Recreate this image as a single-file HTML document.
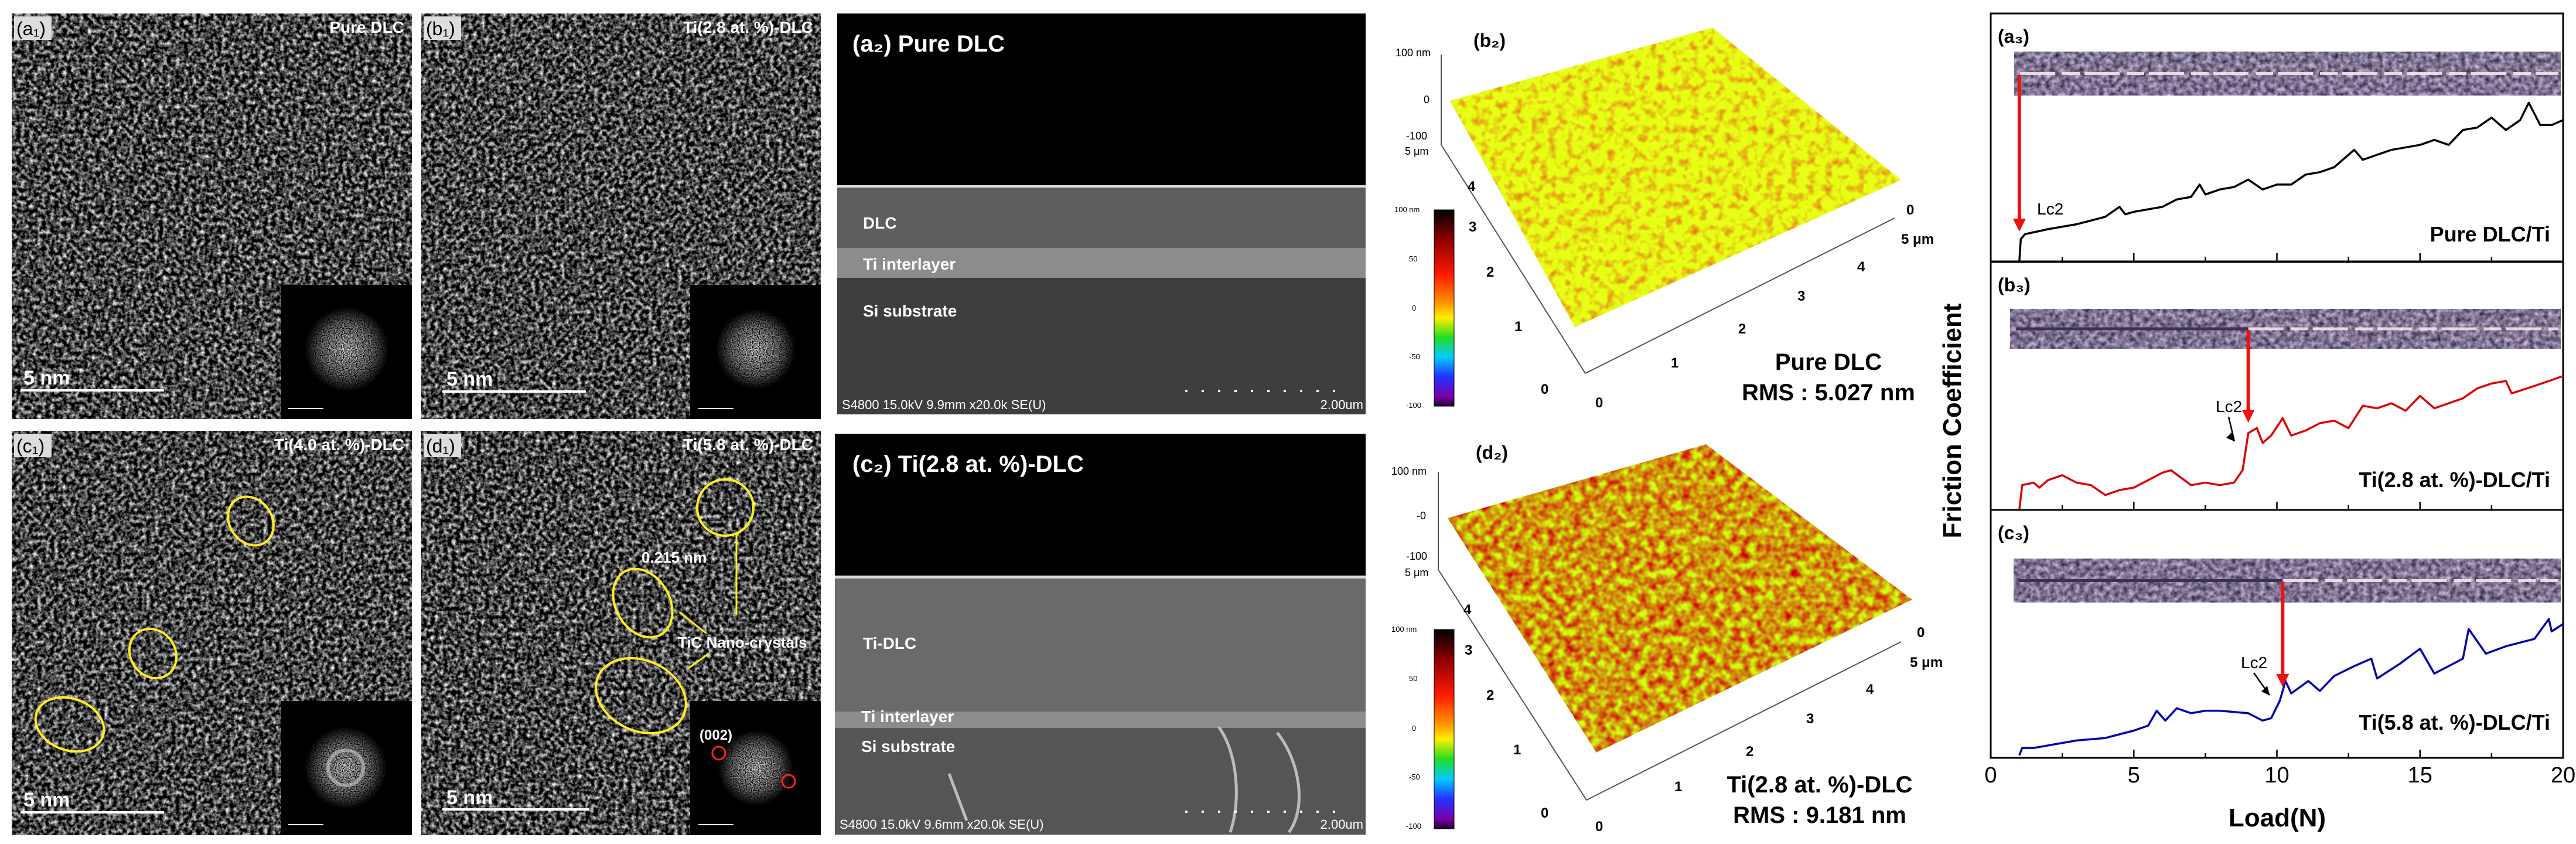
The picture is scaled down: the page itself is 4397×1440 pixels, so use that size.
<!DOCTYPE html>
<html><head><meta charset="utf-8">
<style>
html,body{margin:0;padding:0;background:#fff;}
svg{display:block;font-family:"Liberation Sans",sans-serif;}
filter{color-interpolation-filters:sRGB;}
</style></head>
<body>
<svg id="fig" width="4397" height="1440" viewBox="0 0 4397 1440" xmlns="http://www.w3.org/2000/svg">
<defs>
<filter id="tem" x="0" y="0" width="100%" height="100%" color-interpolation-filters="sRGB">
  <feTurbulence type="fractalNoise" baseFrequency="0.14" numOctaves="3" seed="3" result="n"/>
  <feColorMatrix in="n" type="matrix" values="1.9 0 0 0 -0.68  1.9 0 0 0 -0.68  1.9 0 0 0 -0.68  0 0 0 0 1" result="g"/>
  <feComposite in="g" in2="SourceGraphic" operator="in"/>
</filter>
<filter id="tem2" x="0" y="0" width="100%" height="100%" color-interpolation-filters="sRGB">
  <feTurbulence type="fractalNoise" baseFrequency="0.14" numOctaves="3" seed="9" result="n"/>
  <feColorMatrix in="n" type="matrix" values="1.9 0 0 0 -0.68  1.9 0 0 0 -0.68  1.9 0 0 0 -0.68  0 0 0 0 1" result="g"/>
  <feComposite in="g" in2="SourceGraphic" operator="in"/>
</filter>
<filter id="strip" x="0" y="0" width="100%" height="100%" color-interpolation-filters="sRGB">
  <feTurbulence type="fractalNoise" baseFrequency="0.12" numOctaves="2" seed="5" result="n"/>
  <feColorMatrix in="n" type="matrix" values="0.9 0 0 0 0.05  0.8 0 0 0 0.05  0.9 0 0 0 0.12  0 0 0 0 1" result="g"/>
  <feComposite in="g" in2="SourceGraphic" operator="in"/>
</filter>
<filter id="afm1" x="0" y="0" width="100%" height="100%" color-interpolation-filters="sRGB">
  <feTurbulence type="fractalNoise" baseFrequency="0.07" numOctaves="2" seed="2" result="n"/>
  <feColorMatrix in="n" type="matrix" values="0 0 0 0 0.9  -1.2 0 0 0 1.55  0 0 0 0 0.08  0 0 0 0 1" result="g"/>
  <feComposite in="g" in2="SourceGraphic" operator="in"/>
</filter>
<filter id="afm2" x="0" y="0" width="100%" height="100%" color-interpolation-filters="sRGB">
  <feTurbulence type="fractalNoise" baseFrequency="0.07" numOctaves="2" seed="7" result="n"/>
  <feColorMatrix in="n" type="matrix" values="0 0 0 0 0.82  -1.8 0 0 0 1.5  0 0 0 0 0.05  0 0 0 0 1" result="g"/>
  <feComposite in="g" in2="SourceGraphic" operator="in"/>
</filter>
<filter id="fft" x="0" y="0" width="100%" height="100%" color-interpolation-filters="sRGB">
  <feTurbulence type="fractalNoise" baseFrequency="0.5" numOctaves="1" seed="4" result="n"/>
  <feColorMatrix in="n" type="matrix" values="3 0 0 0 -0.9  3 0 0 0 -0.9  3 0 0 0 -0.9  0 0 0 0 1" result="g"/>
  <feComposite in="g" in2="SourceGraphic" operator="in"/>
</filter>
<radialGradient id="fftg">
  <stop offset="0" stop-color="#fff" stop-opacity="0.9"/>
  <stop offset="0.6" stop-color="#fff" stop-opacity="0.5"/>
  <stop offset="1" stop-color="#fff" stop-opacity="0"/>
</radialGradient>
<linearGradient id="cbar" x1="0" y1="0" x2="0" y2="1">
  <stop offset="0" stop-color="#000"/><stop offset="0.15" stop-color="#8b0000"/>
  <stop offset="0.33" stop-color="#ff1a00"/><stop offset="0.48" stop-color="#ff9900"/>
  <stop offset="0.55" stop-color="#ffee00"/><stop offset="0.65" stop-color="#22dd22"/>
  <stop offset="0.75" stop-color="#00ccff"/><stop offset="0.85" stop-color="#2233ff"/>
  <stop offset="0.95" stop-color="#7a00aa"/><stop offset="1" stop-color="#200030"/>
</linearGradient>
</defs>

<!-- TEM panels -->
<g>
  <g>
    <rect x="20" y="23" width="683" height="692" fill="#888" filter="url(#tem)"/>
    <rect x="480" y="486" width="223" height="229" fill="#000"/>
    <circle cx="592" cy="596" r="72" fill="url(#fftg)" filter="url(#fft)"/>
    <line x1="492" y1="697" x2="552" y2="697" stroke="#fff" stroke-width="2"/>
    <rect x="24" y="28" width="64" height="40" fill="#ddd"/>
    <text x="28" y="60" font-size="32" fill="#000">(a₁)</text>
    <text x="690" y="56" font-size="28" font-weight="bold" fill="#fff" text-anchor="end">Pure DLC</text>
    <line x1="35" y1="666" x2="280" y2="666" stroke="#fff" stroke-width="4"/>
    <text x="40" y="656" font-size="34" font-weight="bold" fill="#fff">5 nm</text>
  </g>
  <g>
    <rect x="719" y="23" width="682" height="692" fill="#888" filter="url(#tem2)"/>
    <rect x="1178" y="486" width="223" height="229" fill="#000"/>
    <circle cx="1290" cy="596" r="68" fill="url(#fftg)" filter="url(#fft)"/>
    <line x1="1192" y1="697" x2="1252" y2="697" stroke="#fff" stroke-width="2"/>
    <rect x="723" y="28" width="64" height="40" fill="#ddd"/>
    <text x="727" y="60" font-size="32" fill="#000">(b₁)</text>
    <text x="1388" y="56" font-size="28" font-weight="bold" fill="#fff" text-anchor="end">Ti(2.8 at. %)-DLC</text>
    <line x1="755" y1="668" x2="1000" y2="668" stroke="#fff" stroke-width="4"/>
    <text x="762" y="658" font-size="34" font-weight="bold" fill="#fff">5 nm</text>
  </g>
  <g>
    <rect x="20" y="735" width="683" height="690" fill="#888" filter="url(#tem2)"/>
    <rect x="480" y="1196" width="223" height="229" fill="#000"/>
    <circle cx="590" cy="1310" r="70" fill="url(#fftg)" filter="url(#fft)"/>
    <circle cx="590" cy="1310" r="30" fill="none" stroke="#ccc" stroke-width="6" opacity="0.6"/>
    <line x1="492" y1="1407" x2="552" y2="1407" stroke="#fff" stroke-width="2"/>
    <rect x="24" y="740" width="64" height="40" fill="#ddd"/>
    <text x="28" y="772" font-size="32" fill="#000">(c₁)</text>
    <text x="690" y="768" font-size="28" font-weight="bold" fill="#fff" text-anchor="end">Ti(4.0 at. %)-DLC</text>
    <line x1="35" y1="1386" x2="280" y2="1386" stroke="#fff" stroke-width="4"/>
    <text x="40" y="1376" font-size="34" font-weight="bold" fill="#fff">5 nm</text>
    <ellipse cx="428" cy="889" rx="36" ry="44" transform="rotate(-35 428 889)" fill="none" stroke="#ffee22" stroke-width="4"/>
    <ellipse cx="261" cy="1115" rx="38" ry="44" transform="rotate(-35 261 1115)" fill="none" stroke="#ffee22" stroke-width="4"/>
    <ellipse cx="119" cy="1236" rx="60" ry="44" transform="rotate(20 119 1236)" fill="none" stroke="#ffee22" stroke-width="4"/>
  </g>
  <g>
    <rect x="719" y="735" width="682" height="690" fill="#888" filter="url(#tem)"/>
    <rect x="1178" y="1196" width="223" height="229" fill="#000"/>
    <circle cx="1290" cy="1310" r="64" fill="url(#fftg)" filter="url(#fft)"/>
    <circle cx="1227" cy="1285" r="11" fill="none" stroke="#ff2020" stroke-width="3"/>
    <circle cx="1346" cy="1333" r="11" fill="none" stroke="#ff2020" stroke-width="3"/>
    <text x="1194" y="1262" font-size="24" font-weight="bold" fill="#fff">(002)</text>
    <line x1="1192" y1="1407" x2="1252" y2="1407" stroke="#fff" stroke-width="2"/>
    <rect x="723" y="740" width="64" height="40" fill="#ddd"/>
    <text x="727" y="772" font-size="32" fill="#000">(d₁)</text>
    <text x="1388" y="768" font-size="28" font-weight="bold" fill="#fff" text-anchor="end">Ti(5.8 at. %)-DLC</text>
    <line x1="755" y1="1381" x2="1005" y2="1381" stroke="#fff" stroke-width="4"/>
    <text x="762" y="1372" font-size="34" font-weight="bold" fill="#fff">5 nm</text>
    <ellipse cx="1238" cy="866" rx="48" ry="48" fill="none" stroke="#ffee22" stroke-width="4"/>
    <ellipse cx="1097" cy="1029" rx="46" ry="62" transform="rotate(-30 1097 1029)" fill="none" stroke="#ffee22" stroke-width="4"/>
    <ellipse cx="1094" cy="1187" rx="80" ry="60" transform="rotate(25 1094 1187)" fill="none" stroke="#ffee22" stroke-width="4"/>
    <text x="1095" y="960" font-size="26" font-weight="bold" fill="#fff">0.215 nm</text>
    <text x="1157" y="1105" font-size="26" font-weight="bold" fill="#fff">TiC Nano-crystals</text>
    <line x1="1257" y1="1050" x2="1257" y2="910" stroke="#ffee22" stroke-width="3"/>
    <line x1="1205" y1="1080" x2="1160" y2="1045" stroke="#ffee22" stroke-width="3"/>
    <line x1="1210" y1="1115" x2="1175" y2="1140" stroke="#ffee22" stroke-width="3"/>
  </g>
</g>

<!-- SEM panels -->
<g>
  <rect x="1429" y="23" width="902" height="684" fill="#000"/>
  <rect x="1429" y="318" width="902" height="105" fill="#5e5e5e"/>
  <rect x="1429" y="316" width="902" height="4" fill="#ddd"/>
  <rect x="1429" y="423" width="902" height="51" fill="#8c8c8c"/>
  <rect x="1429" y="474" width="902" height="233" fill="#3e3e3e"/>
  <text x="1455" y="88" font-size="40" font-weight="bold" fill="#fff">(a₂) Pure DLC</text>
  <text x="1473" y="390" font-size="28" font-weight="bold" fill="#fff">DLC</text>
  <text x="1473" y="460" font-size="28" font-weight="bold" fill="#fff">Ti interlayer</text>
  <text x="1473" y="540" font-size="28" font-weight="bold" fill="#fff">Si substrate</text>
  <text x="1437" y="698" font-size="22" fill="#fff">S4800 15.0kV 9.9mm x20.0k SE(U)</text>
  <text x="2327" y="698" font-size="22" fill="#fff" text-anchor="end">2.00um</text>
  <line x1="2023" y1="667" x2="2300" y2="667" stroke="#fff" stroke-width="4" stroke-dasharray="4 24"/>
</g>
<g>
  <rect x="1425" y="740" width="906" height="684" fill="#000"/>
  <rect x="1425" y="986" width="906" height="228" fill="#6a6a6a"/>
  <rect x="1425" y="982" width="906" height="5" fill="#ddd"/>
  <rect x="1425" y="1214" width="906" height="28" fill="#8c8c8c"/>
  <rect x="1425" y="1242" width="906" height="182" fill="#555"/>
  <path d="M2080 1240 C2110 1280 2120 1360 2100 1420 M2180 1250 C2220 1300 2230 1380 2200 1420 M1620 1320 L1650 1400" stroke="#bbb" stroke-width="5" fill="none"/>
  <text x="1455" y="805" font-size="40" font-weight="bold" fill="#fff">(c₂) Ti(2.8 at. %)-DLC</text>
  <text x="1473" y="1107" font-size="28" font-weight="bold" fill="#fff">Ti-DLC</text>
  <text x="1470" y="1232" font-size="28" font-weight="bold" fill="#fff">Ti interlayer</text>
  <text x="1470" y="1283" font-size="28" font-weight="bold" fill="#fff">Si substrate</text>
  <text x="1433" y="1414" font-size="22" fill="#fff">S4800 15.0kV 9.6mm x20.0k SE(U)</text>
  <text x="2327" y="1414" font-size="22" fill="#fff" text-anchor="end">2.00um</text>
  <line x1="2023" y1="1385" x2="2300" y2="1385" stroke="#fff" stroke-width="4" stroke-dasharray="4 24"/>
</g>

<!-- AFM panels -->
<g>
  <polyline points="2460,93 2460,247 2706,637 3234,372" fill="none" stroke="#555" stroke-width="2"/>
  <polygon points="2475,172 2923,47 3245,307 2688,558" fill="#e0a020" filter="url(#afm1)"/>
  <text x="2515" y="80" font-size="32" font-weight="bold" fill="#000">(b₂)</text>
  <text x="2382" y="96" font-size="18" fill="#000">100 nm</text>
  <text x="2430" y="176" font-size="18" fill="#000">0</text>
  <text x="2400" y="238" font-size="18" fill="#000">-100</text>
  <text x="2398" y="264" font-size="18" fill="#000">5 μm</text>
  <rect x="2448" y="358" width="34" height="335" fill="url(#cbar)" stroke="#000" stroke-width="1"/>
  <text x="2380" y="362" font-size="13" fill="#000">100 nm</text>
  <text x="2405" y="446" font-size="13" fill="#000">50</text>
  <text x="2410" y="530" font-size="13" fill="#000">0</text>
  <text x="2405" y="613" font-size="13" fill="#000">-50</text>
  <text x="2400" y="696" font-size="13" fill="#000">-100</text>
  <g font-size="24" font-weight="bold" fill="#000">
    <text x="2505" y="326">4</text><text x="2507" y="395">3</text><text x="2537" y="472">2</text><text x="2585" y="565">1</text><text x="2630" y="672">0</text>
    <text x="2723" y="695">0</text><text x="2852" y="627">1</text><text x="2967" y="569">2</text><text x="3068" y="513">3</text><text x="3170" y="463">4</text><text x="3254" y="366">0</text><text x="3245" y="416">5 μm</text>
  </g>
  <text x="3121" y="631" font-size="40" font-weight="bold" fill="#000" text-anchor="middle">Pure DLC</text>
  <text x="3121" y="683" font-size="40" font-weight="bold" fill="#000" text-anchor="middle">RMS : 5.027 nm</text>
</g>
<g>
  <polyline points="2455,805 2455,972 2708,1365 3245,1095" fill="none" stroke="#555" stroke-width="2"/>
  <polygon points="2471,884 2912,758 3264,1023 2725,1284" fill="#c06018" filter="url(#afm2)"/>
  <text x="2519" y="783" font-size="32" font-weight="bold" fill="#000">(d₂)</text>
  <text x="2375" y="810" font-size="18" fill="#000">100 nm</text>
  <text x="2418" y="886" font-size="18" fill="#000">-0</text>
  <text x="2400" y="955" font-size="18" fill="#000">-100</text>
  <text x="2398" y="983" font-size="18" fill="#000">5 μm</text>
  <rect x="2448" y="1074" width="34" height="340" fill="url(#cbar)" stroke="#000" stroke-width="1"/>
  <text x="2375" y="1078" font-size="13" fill="#000">100 nm</text>
  <text x="2405" y="1162" font-size="13" fill="#000">50</text>
  <text x="2410" y="1247" font-size="13" fill="#000">0</text>
  <text x="2405" y="1330" font-size="13" fill="#000">-50</text>
  <text x="2400" y="1414" font-size="13" fill="#000">-100</text>
  <g font-size="24" font-weight="bold" fill="#000">
    <text x="2498" y="1048">4</text><text x="2500" y="1117">3</text><text x="2537" y="1194">2</text><text x="2583" y="1287">1</text><text x="2630" y="1395">0</text>
    <text x="2723" y="1418">0</text><text x="2858" y="1350">1</text><text x="2980" y="1290">2</text><text x="3083" y="1234">3</text><text x="3185" y="1184">4</text><text x="3272" y="1087">0</text><text x="3260" y="1138">5 μm</text>
  </g>
  <text x="3106" y="1352" font-size="40" font-weight="bold" fill="#000" text-anchor="middle">Ti(2.8 at. %)-DLC</text>
  <text x="3106" y="1404" font-size="40" font-weight="bold" fill="#000" text-anchor="middle">RMS : 9.181 nm</text>
</g>

<!-- scratch chart -->
<g id="chart"></g>
</svg>

<script>
const xTicks = [0, 5, 10, 15, 20];
const xTickLabels = ["0", "5", "10", "15", "20"];
const loadA = [1,1.05,1.2,2,3,4,4.5,4.7,5,6,6.5,7,7.3,7.5,8,8.5,9,9.5,10,10.5,11,11.5,12,12.7,13,13.5,14,15,15.5,16,16.5,17,17.5,18,18.5,18.8,19.2,19.6,20];
const fricA = [0,0.09,0.11,0.13,0.15,0.18,0.22,0.19,0.2,0.22,0.25,0.26,0.31,0.27,0.29,0.3,0.33,0.29,0.31,0.31,0.35,0.36,0.38,0.45,0.41,0.43,0.45,0.47,0.49,0.47,0.53,0.54,0.58,0.53,0.57,0.64,0.55,0.55,0.57];
const loadB = [1,1.1,1.5,1.7,2,2.5,3,3.5,4,4.5,5,5.5,6,6.3,7,7.5,8,8.5,8.8,9,9.3,9.5,9.8,10.2,10.5,11,11.5,12,12.5,13,13.5,14,14.5,15,15.5,16,16.5,17,17.5,18,18.2,19,20];
const fricB = [0,0.1,0.11,0.09,0.12,0.14,0.11,0.1,0.06,0.08,0.09,0.12,0.15,0.16,0.1,0.11,0.1,0.11,0.16,0.31,0.33,0.27,0.3,0.37,0.3,0.32,0.35,0.36,0.33,0.42,0.41,0.43,0.4,0.46,0.41,0.43,0.45,0.49,0.51,0.52,0.47,0.5,0.54];
const loadC = [1,1.1,1.5,2.5,3,4,5,5.5,5.8,6.1,6.5,7,7.5,8,9,9.5,9.8,10.1,10.3,10.5,11.1,11.5,12,12.7,13.3,13.5,14.3,15,15.5,16.5,16.7,17.3,18,19,19.5,19.6,20];
const fricC = [0.01,0.04,0.04,0.06,0.07,0.08,0.11,0.13,0.19,0.15,0.2,0.18,0.19,0.19,0.18,0.15,0.16,0.23,0.31,0.26,0.31,0.27,0.33,0.37,0.4,0.32,0.38,0.44,0.34,0.4,0.52,0.42,0.45,0.48,0.56,0.51,0.54];
const lc2Loads = [1, 9, 10.2];
const panelLabels = ["(a₃)", "(b₃)", "(c₃)"];
const sampleLabels = ["Pure DLC/Ti", "Ti(2.8 at. %)-DLC/Ti", "Ti(5.8 at. %)-DLC/Ti"];

const NS = "http://www.w3.org/2000/svg";
const chart = document.getElementById('chart');
const X0 = 3398, X1 = 4375;
const panelTops = [23, 447, 870];
const panelH = 423;
function xScale(n) { return X0 + (n / 20) * (X1 - X0); }
function yScale(v, p) { return panelTops[p] + panelH - v * panelH; }
function mk(tag, attrs, parent) {
  const e = document.createElementNS(NS, tag);
  for (const k in attrs) e.setAttribute(k, attrs[k]);
  (parent || chart).appendChild(e);
  return e;
}
const series = [[loadA, fricA], [loadB, fricB], [loadC, fricC]];
const colors = ["#000", "#e00000", "#0000b0"];

for (let p = 0; p < 3; p++) {
  const top = panelTops[p], bot = top + panelH;
  const frame = mk('rect', {x: X0, y: top, width: X1 - X0, height: panelH, fill: 'none', stroke: '#000', 'stroke-width': 3});
  
  
  for (let t = 0; t <= 20; t += 2.5) {
    const major = t % 5 === 0;
    const tk = mk('line', {x1: xScale(t), x2: xScale(t), y1: bot, y2: bot - (major ? 14 : 8), stroke: '#000', 'stroke-width': 2.5});
    
    
  }
  const sy = [88, 527, 953][p];
  const sx = [3438, 3431, 3437][p];
  const sh = sy === 527 ? 68 : 75;
  const strip = mk('rect', {x: sx, y: sy, width: X1 - 4 - sx, height: sh, fill: '#7a6e88', filter: 'url(#strip)'});
  
  
  const trackStart = xScale(lc2Loads[p]);
  const trackY = sy + sh / 2;
  const track = mk('line', {x1: p === 0 ? sx + 10 : trackStart, x2: X1 - 8, y1: trackY, y2: trackY, stroke: '#f4eef4', 'stroke-width': 5, 'stroke-dasharray': '60 12 30 8', opacity: 0.85});
  
  
  if (p > 0) {
    const dark = mk('line', {x1: sx + 10, x2: trackStart, y1: trackY, y2: trackY, stroke: '#3a3058', 'stroke-width': 5});
    
    
  }
  const xs = series[p][0], ys = series[p][1];
  let d = '';
  for (let i = 0; i < xs.length; i++) d += (i ? 'L' : 'M') + xScale(xs[i]).toFixed(1) + ' ' + yScale(ys[i], p).toFixed(1);
  const path = mk('path', {d: d, fill: 'none', stroke: colors[p], 'stroke-width': 3.5, 'stroke-linejoin': 'round'});
  
  
  const ax = xScale(lc2Loads[p]);
  const ay1 = trackY + 2;
  const ay2 = [395, 721, 1172][p];
  const ar = mk('line', {x1: ax, x2: ax, y1: ay1, y2: ay2 - 18, stroke: '#ee1111', 'stroke-width': 6});
  
  
  const head = mk('polygon', {points: `${ax - 11},${ay2 - 22} ${ax + 11},${ay2 - 22} ${ax},${ay2}`, fill: '#ee1111'});
  
  
  const lx = [3477, 3782, 3825][p], ly = [366, 703, 1140][p];
  const lt = mk('text', {x: lx, y: ly, 'font-size': 28, fill: '#000'});
  lt.textContent = 'Lc2';
  
  
  if (p > 0) {
    const ex = [0, 3814, 3874][p], ey = [0, 753, 1186][p];
    const la = mk('line', {x1: lx + 22, y1: ly + 8, x2: ex, y2: ey, stroke: '#000', 'stroke-width': 2.5});
    
    
    const lh = mk('polygon', {points: `${ex},${ey} ${ex - 14},${ey - 6} ${ex - 4},${ey - 16}`, fill: '#000'});
    
    
  }
  const pl = mk('text', {x: 3410, y: top + 50, 'font-size': 32, 'font-weight': 'bold', fill: '#000'});
  pl.textContent = panelLabels[p];
  
  
  const sl = mk('text', {x: 4353, y: [412, 831, 1245][p], 'font-size': 36, 'font-weight': 'bold', fill: '#000', 'text-anchor': 'end'});
  sl.textContent = sampleLabels[p];
  
  
}
for (let i = 0; i < xTicks.length; i++) {
  const t = mk('text', {x: xScale(xTicks[i]), y: 1335, 'font-size': 38, fill: '#000', 'text-anchor': 'middle'});
  t.textContent = xTickLabels[i];
  
  
}
const xt = mk('text', {x: 3887, y: 1410, 'font-size': 44, 'font-weight': 'bold', fill: '#000', 'text-anchor': 'middle'});
xt.textContent = 'Load(N)';


const yt = mk('text', {x: 0, y: 0, 'font-size': 44, 'font-weight': 'bold', fill: '#000', 'text-anchor': 'middle', transform: 'translate(3347 718) rotate(-90)'});
yt.textContent = 'Friction Coefficient';


</script>
</body></html>
